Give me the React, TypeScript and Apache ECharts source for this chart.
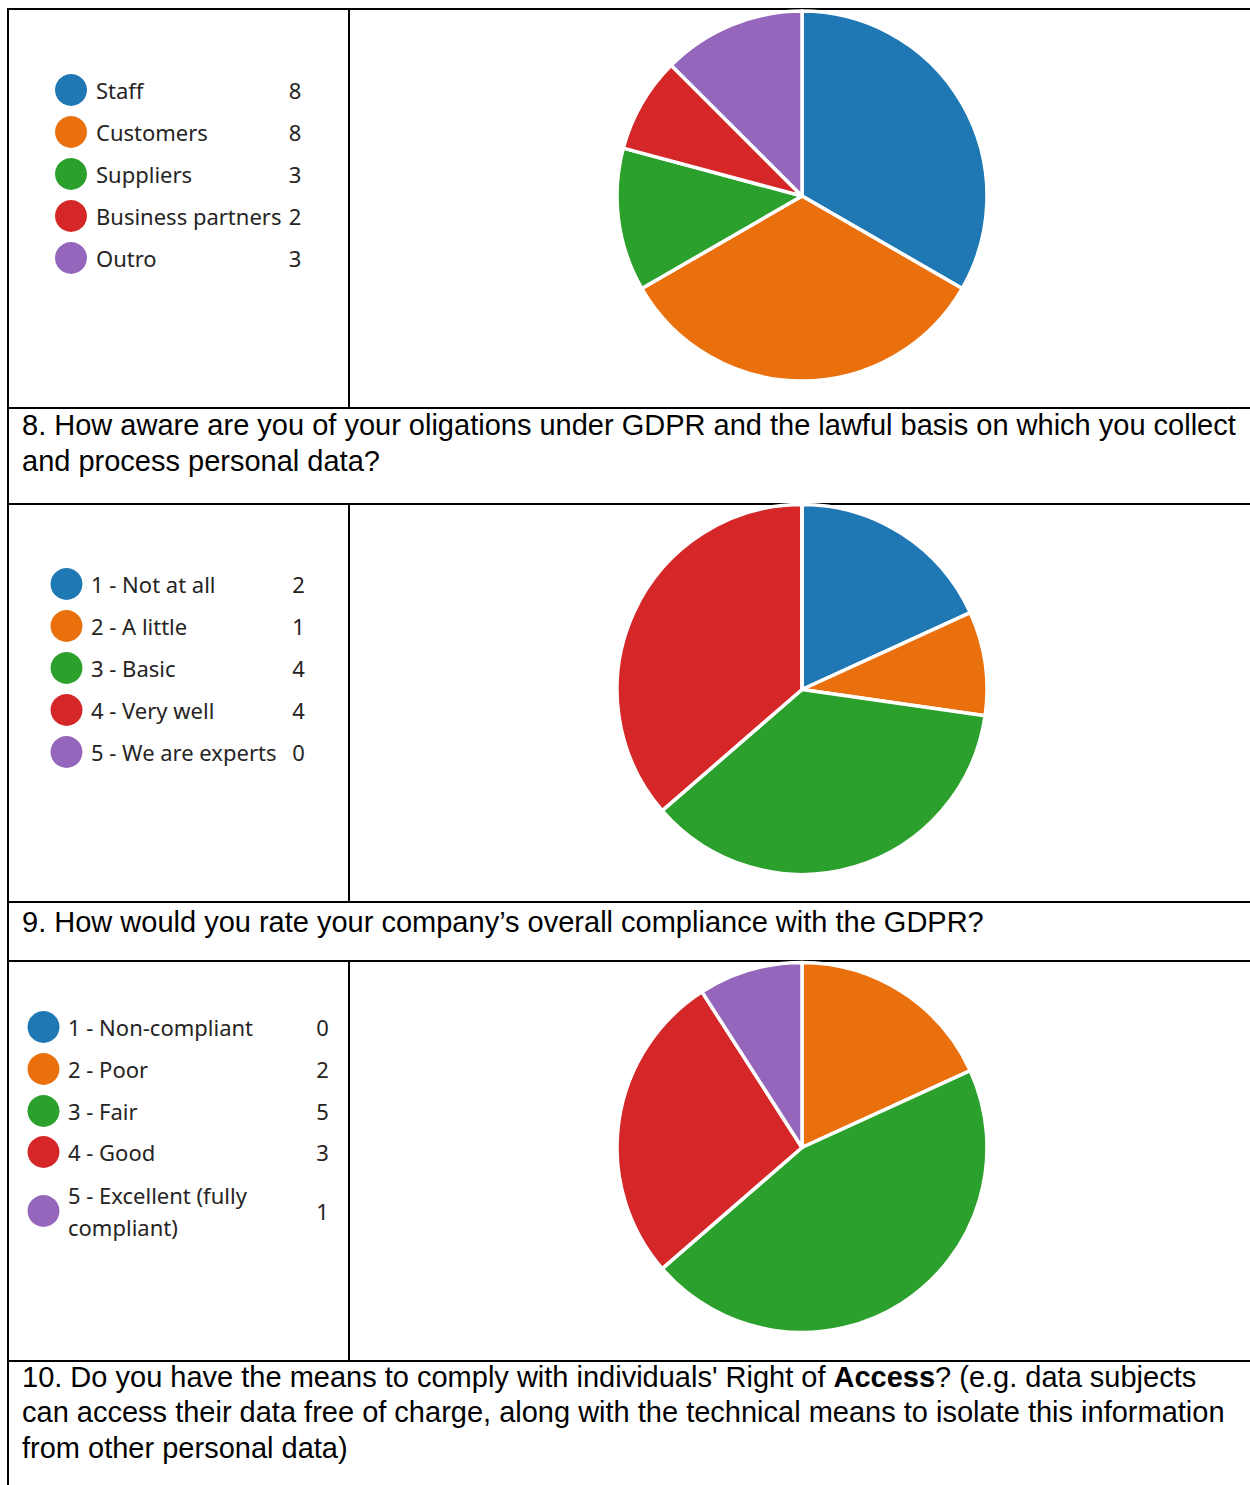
import React, { useEffect, useRef } from 'react';
import * as echarts from 'echarts';

// ---------- data ----------
const COLORS = ['#1F77B4', '#EA700D', '#2CA02C', '#D62728', '#9467BD'];

const q7Names = ['Staff', 'Customers', 'Suppliers', 'Business partners', 'Outro'];
const q7Values = [8, 8, 3, 2, 3];

const q8Names = ['1 - Not at all', '2 - A little', '3 - Basic', '4 - Very well', '5 - We are experts'];
const q8Values = [2, 1, 4, 4, 0];

const q9Names = ['1 - Non-compliant', '2 - Poor', '3 - Fair', '4 - Good', '5 - Excellent (fully compliant)'];
const q9Values = [0, 2, 5, 3, 1];

const question8Lines = [
  '8. How aware are you of your oligations under GDPR and the lawful basis on which you collect',
  'and process personal data?',
];
const question9Lines = ['9. How would you rate your company\u2019s overall compliance with the GDPR?'];
const question10Lines = [
  "10. Do you have the means to comply with individuals' Right of {b|Access}? (e.g. data subjects",
  'can access their data free of charge, along with the technical means to isolate this information',
  'from other personal data)',
];

// ---------- layout ----------
const W = 1250;
const H = 1485;
const LEGEND_FONT = '"Noto Sans", "Open Sans", sans-serif';
const Q_FONT = '"Liberation Sans", Arial, sans-serif';
const Q_SIZE = 29;

const blocks = [
  { names: q7Names, values: q7Values, center: [802, 196], iconX: 71, textX: 96, valueX: 295, ys: [90, 132, 174, 216, 258], wrap: 0 },
  { names: q8Names, values: q8Values, center: [802, 689.5], iconX: 66.5, textX: 91, valueX: 298.5, ys: [584, 626, 668, 710, 752], wrap: 0 },
  { names: q9Names, values: q9Values, center: [802, 1147.5], iconX: 43.5, textX: 68, valueX: 322.5, ys: [1027, 1069, 1111, 1152, 1211], wrap: 215 },
];

const questions = [
  { lines: question8Lines, ys: [424.5, 460.5] },
  { lines: question9Lines, ys: [922] },
  { lines: question10Lines, ys: [1376.5, 1412, 1447.5] },
];

function buildGraphics() {
  const g: any[] = [];
  const line = (x1: number, y1: number, x2: number, y2: number) =>
    g.push({ type: 'line', silent: true, shape: { x1, y1, x2, y2 }, style: { stroke: '#000', lineWidth: 2 } });
  // table borders
  line(8, 9, W, 9);
  line(8, 8, 8, H);
  line(349, 9, 349, 408);
  line(349, 504, 349, 902);
  line(349, 961, 349, 1361);
  line(8, 408, W, 408);
  line(8, 504, W, 504);
  line(8, 902, W, 902);
  line(8, 961, W, 961);
  line(8, 1361, W, 1361);

  // legends
  blocks.forEach((b) => {
    b.names.forEach((name, i) => {
      const y = b.ys[i];
      g.push({ type: 'circle', silent: true, shape: { cx: b.iconX, cy: y, r: 16 }, style: { fill: COLORS[i] } });
      const st: any = {
        text: name,
        fontFamily: LEGEND_FONT,
        fontSize: 22,
        fill: '#252423',
        align: 'left',
        verticalAlign: 'middle',
        lineHeight: 32,
      };
      if (b.wrap) {
        st.width = b.wrap;
        st.overflow = 'break';
      }
      g.push({ type: 'text', silent: true, x: b.textX, y, style: st });
      g.push({
        type: 'text',
        silent: true,
        x: b.valueX,
        y,
        style: {
          text: String(b.values[i]),
          fontFamily: LEGEND_FONT,
          fontSize: 22,
          fill: '#252423',
          align: 'center',
          verticalAlign: 'middle',
        },
      });
    });
  });

  // questions
  questions.forEach((q) => {
    q.lines.forEach((t, i) => {
      g.push({
        type: 'text',
        silent: true,
        x: 22,
        y: q.ys[i],
        style: {
          text: t,
          fontFamily: Q_FONT,
          fontSize: Q_SIZE,
          fill: '#000',
          align: 'left',
          verticalAlign: 'middle',
          rich: {
            b: { fontFamily: Q_FONT, fontSize: Q_SIZE, fontWeight: 'bold', fill: '#000' },
          },
        },
      });
    });
  });
  return g;
}

export default function App() {
  const ref = useRef<HTMLDivElement>(null);
  useEffect(() => {
    if (!ref.current) return;
    const chart = echarts.init(ref.current, undefined, { renderer: 'svg' });
    chart.setOption({
      animation: false,
      backgroundColor: '#ffffff',
      color: COLORS,
      series: blocks.map((b) => ({
        type: 'pie',
        center: b.center,
        radius: 185,
        startAngle: 90,
        clockwise: true,
        silent: true,
        label: { show: false },
        labelLine: { show: false },
        itemStyle: { borderColor: '#ffffff', borderWidth: 3.5 },
        emphasis: { disabled: true },
        data: b.names.map((n, i) => ({ name: n, value: b.values[i] })),
      })),
      graphic: buildGraphics(),
    });
    return () => chart.dispose();
  }, []);
  return (
    <div
      ref={ref}
      style={{ position: 'absolute', left: 0, top: 0, width: W, height: H, background: '#fff' }}
    />
  );
}
